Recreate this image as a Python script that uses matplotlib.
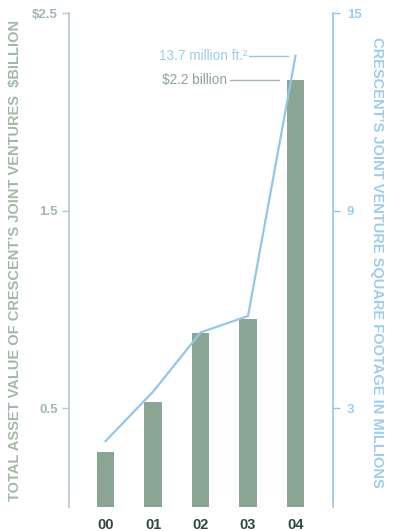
import matplotlib
matplotlib.use("Agg")
import matplotlib.pyplot as plt
import numpy as np

plt.rcParams['font.family'] = ['Liberation Sans', 'DejaVu Sans']

years = ["00", "01", "02", "03", "04"]
asset_value = [0.28, 0.53, 0.88, 0.95, 2.16]      # $ billion (bars, left axis)
square_footage = [2.0, 3.5, 5.3, 5.8, 13.7]       # million sq ft (line, right axis)
left_ticks = [0.5, 1.5, 2.5]
left_ticklabels = ["0.5", "1.5", "$2.5"]
right_ticks = [3, 9, 15]
right_ticklabels = ["3", "9", "15"]

BAR = "#8aa593"
GREEN_TXT = "#a3b9a8"
GREEN_SPINE = "#b8cbbd"
BLUE = "#92c7ea"
BLUE_TXT = "#9fcdec"
DARK = "#2e4a3a"

W, H = 396, 531
fig = plt.figure(figsize=(W / 100, H / 100), dpi=100)
ax = fig.add_axes([69 / W, (H - 507) / H, (333 - 69) / W, (507 - 13) / H])
ax2 = ax.twinx()

x = np.arange(len(years))
ax.bar(x, asset_value, width=0.36, color=BAR, zorder=2)
ax.set_xlim(-0.77, 4.79)
ax.set_ylim(0, 2.5)
ax2.set_ylim(0, 15)

ax2.plot(x, square_footage, color=BLUE, lw=1.6, zorder=3)

for a in (ax, ax2):
    for s in ("top", "bottom"):
        a.spines[s].set_visible(False)
ax.spines["right"].set_visible(False)
ax2.spines["left"].set_visible(False)
ax.spines["left"].set_color(GREEN_SPINE)
ax.spines["left"].set_linewidth(1.2)
ax2.spines["right"].set_color(BLUE)
ax2.spines["right"].set_linewidth(1.2)

ax.set_yticks(left_ticks)
ax.set_yticklabels(left_ticklabels)
ax.tick_params(axis="y", colors=GREEN_SPINE, length=5, width=1, pad=3)
for t in ax.get_yticklabels():
    t.set_color(GREEN_TXT)
    t.set_fontweight("bold")
    t.set_fontsize(9.5)

ax2.set_yticks(right_ticks)
ax2.set_yticklabels(right_ticklabels)
ax2.tick_params(axis="y", colors=BLUE, length=5, width=1, pad=5)
for t in ax2.get_yticklabels():
    t.set_color(BLUE_TXT)
    t.set_fontweight("bold")
    t.set_fontsize(9.5)

ax.set_xticks(x)
ax.set_xticklabels(years)
ax.tick_params(axis="x", length=0, pad=8)
for t in ax.get_xticklabels():
    t.set_color(DARK)
    t.set_fontweight("bold")
    t.set_fontsize(10.5)

fig.text(15 / W, 1 - 260 / H, "TOTAL ASSET VALUE OF CRESCENT\u2019S JOINT VENTURES  $BILLION",
         rotation=90, ha="center", va="center", color=GREEN_TXT,
         fontweight="bold", fontsize=10.5)
fig.text(377 / W, 1 - 262 / H, "CRESCENT\u2019S JOINT VENTURE SQUARE FOOTAGE IN MILLIONS",
         rotation=-90, ha="center", va="center", color=BLUE_TXT,
         fontweight="bold", fontsize=10.5)

# annotations
ax2.plot([3.02, 3.84], [square_footage[-1]] * 2, color=BLUE, lw=1)
ax2.text(2.98, square_footage[-1], "13.7 million ft.\u00b2", color=BLUE_TXT,
         ha="right", va="center", fontsize=9.8)
ax.plot([2.62, 3.65], [asset_value[-1]] * 2, color=GREEN_TXT, lw=1)
ax.text(2.56, asset_value[-1], "$2.2 billion", color="#8fa695",
        ha="right", va="center", fontsize=9.8)

fig.savefig("out.png", dpi=100)
